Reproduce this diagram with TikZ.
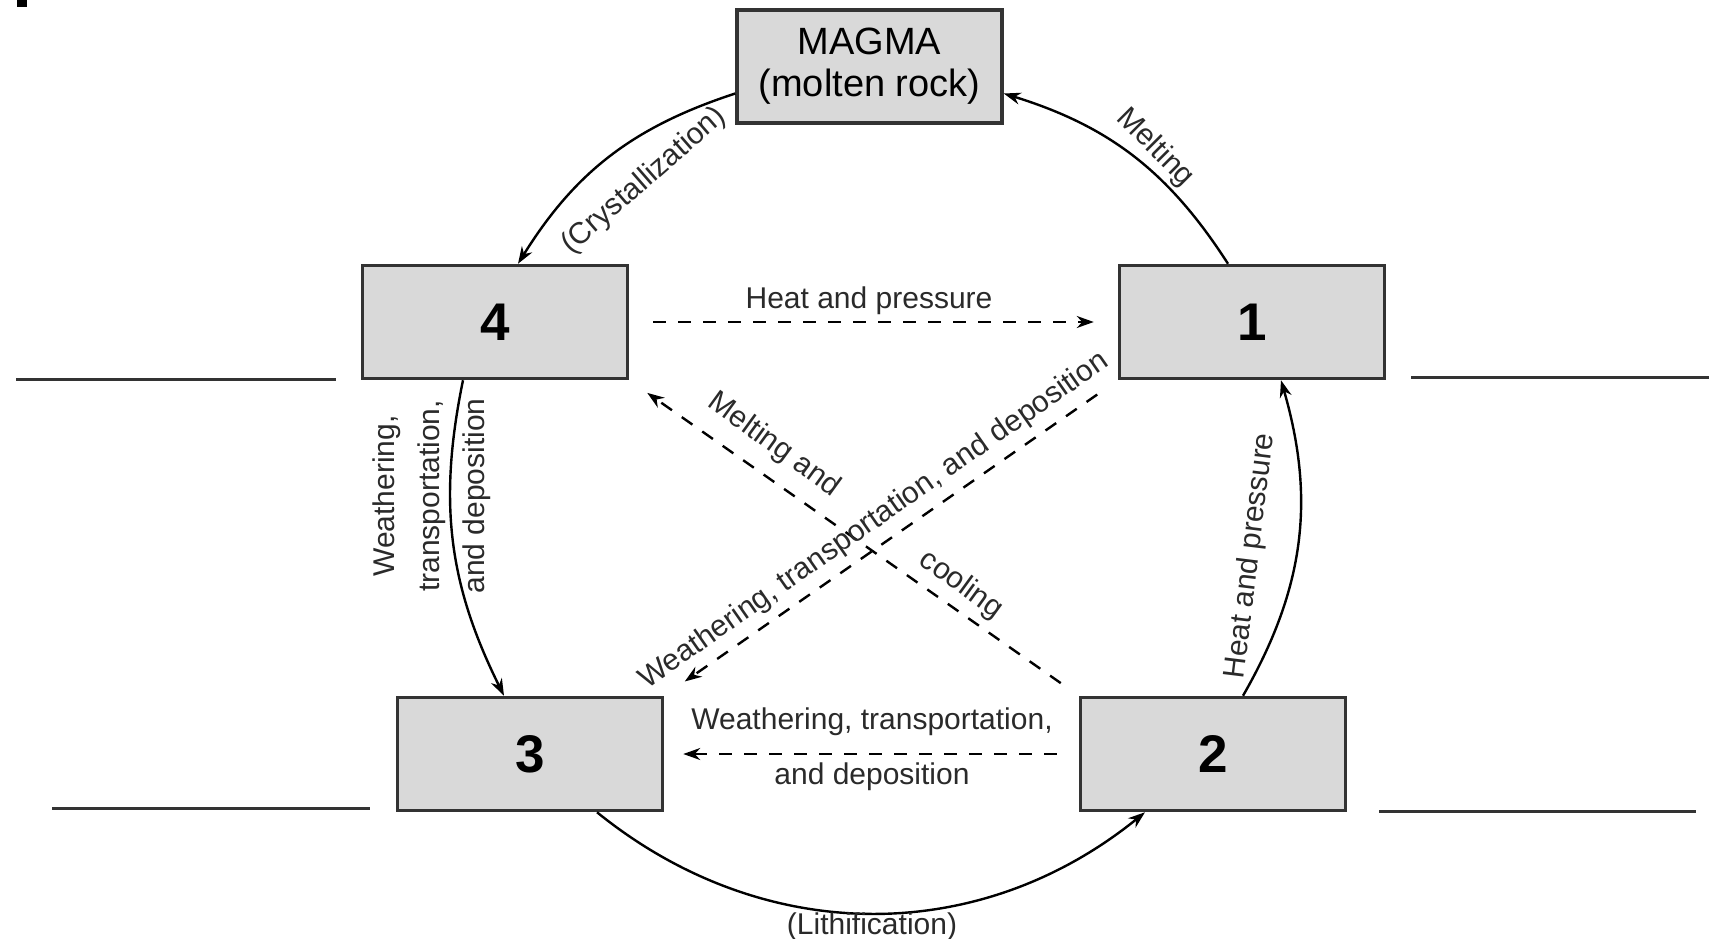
\documentclass[tikz,border=0pt]{standalone}
\usepackage{fontspec}
\setmainfont{Liberation Sans}
\usetikzlibrary{arrows.meta,calc}
\definecolor{boxfill}{HTML}{D9D9D9}
\definecolor{boxline}{HTML}{333333}
\definecolor{txt}{HTML}{2A2A2A}
\tikzset{
  rockbox/.style={draw=boxline, fill=boxfill, line width=3.5pt, minimum width=265pt, minimum height=113pt, inner sep=0pt, font=\fontsize{53}{60}\selectfont\bfseries, text=black},
  cyc/.style={line width=2.4pt, -{Stealth[length=17pt,width=12pt]}},
  dsh/.style={line width=2.4pt, dash pattern=on 13pt off 12pt, -{Stealth[length=17pt,width=12pt]}},
  lbl/.style={font=\fontsize{30}{45}\selectfont, text=txt, inner sep=0pt, align=center},
  blank/.style={line width=3pt, draw=boxline}
}
\begin{document}
\begin{tikzpicture}[x=1pt,y=-1pt]
\useasboundingbox (0,0) rectangle (1709,939);
\fill (17,0) rectangle (27,7);
% boxes
\node[rockbox, font=\fontsize{38}{42}\selectfont, align=center] (magma) at (869.5,66.5) {MAGMA\\(molten rock)};
\node[rockbox] (n4) at (495,322) {4};
\node[rockbox] (n1) at (1252,322) {1};
\node[rockbox] (n3) at (530,754) {3};
\node[rockbox] (n2) at (1213,754) {2};
% blank answer lines
\coordinate (l1a) at (16,379); \coordinate (l1b) at (336,379);
\coordinate (l2a) at (1411,377); \coordinate (l2b) at (1709,377);
\coordinate (l3a) at (52,808); \coordinate (l3b) at (370,808);
\coordinate (l4a) at (1379,811); \coordinate (l4b) at (1696,811);
\draw[blank] (l1a) -- (l1b);
\draw[blank] (l2a) -- (l2b);
\draw[blank] (l3a) -- (l3b);
\draw[blank] (l4a) -- (l4b);
% cycle arcs
\draw[cyc] ($(magma.west)+(0,27)$) to[bend right=20] ($(n4.north)+(23,0)$);
\draw[cyc] ($(n1.north)+(-24,0)$) to[bend right=20] ($(magma.east)+(0,27)$);
\draw[cyc] ($(n2.north)+(30,0)$) to[bend right=23] ($(n1.south)+(29,0)$);
\draw[cyc] ($(n3.south)+(67,0)$) to[bend right=39] ($(n2.south)+(-68,0)$);
\draw[cyc] ($(n4.south)+(-32,0)$) to[bend right=19] ($(n3.north)+(-26,0)$);
% dashed arrows
\draw[dsh, shorten <=24pt, shorten >=24pt] (n4.east) -- (n1.west);
\draw[dsh, shorten <=22pt, shorten >=19pt] (n2.west) -- (n3.east);
\draw[dsh, shorten <=22pt, shorten >=22pt] (n2.north west) -- (n4.south east);
\draw[dsh, shorten <=25pt, shorten >=25pt] (n1.south west) -- (n3.north east);
% labels
\node[lbl, rotate=41] (lcr) at (644,181) {(Crystallization)};
\node[lbl, rotate=-45] (lme) at (1155,148) {Melting};
\node[lbl] (lhp) at (869,301) {Heat and pressure};
\node[lbl, rotate=90] (lwtd) at (432,496) {Weathering,\\transportation,\\and deposition};
\node[lbl, rotate=83] (lhp2) at (1251,556) {Heat and pressure};
\node[lbl] (lli) at (872,927) {(Lithification)};
\node[lbl] (lw1) at (872,722) {Weathering, transportation,};
\node[lbl] (lw2) at (872,777) {and deposition};
\node[lbl, rotate=35] (lwd) at (874,521) {Weathering, transportation, and deposition};
\node[lbl, rotate=-36] (lma) at (774,445) {Melting and};
\node[lbl, rotate=-36] (lco) at (961,585) {cooling};
\end{tikzpicture}
\end{document}
